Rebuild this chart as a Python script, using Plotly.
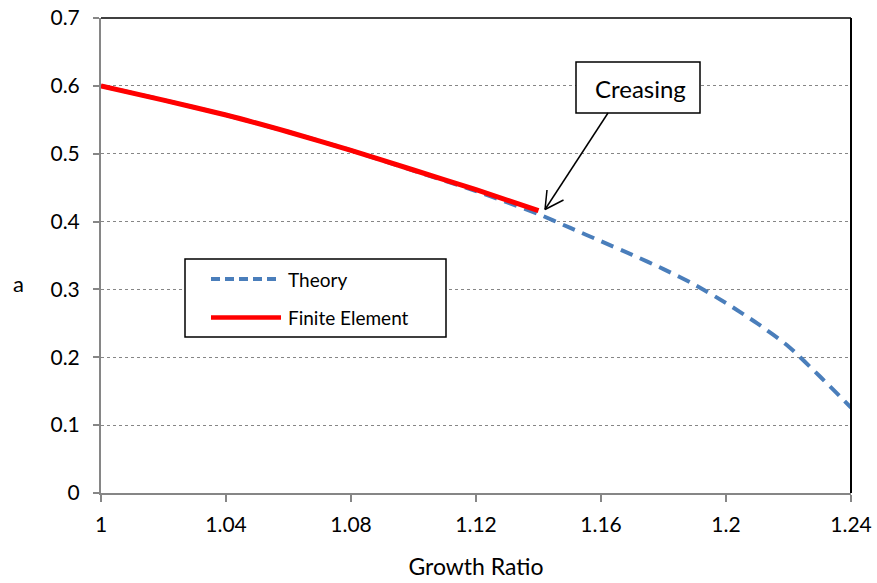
import plotly.graph_objects as go

# ---- data ----
theory_x = [1.00, 1.02, 1.04, 1.06, 1.08, 1.10, 1.12, 1.14, 1.15, 1.16, 1.17, 1.18,
            1.19, 1.20, 1.21, 1.22, 1.23, 1.24]
theory_y = [0.600, 0.579, 0.557, 0.532, 0.505, 0.475, 0.445, 0.411, 0.391, 0.371,
            0.351, 0.330, 0.307, 0.280, 0.250, 0.216, 0.172, 0.126]
fe_x = [1.00, 1.02, 1.04, 1.06, 1.08, 1.10, 1.12, 1.14]
fe_y = [0.600, 0.579, 0.557, 0.532, 0.505, 0.476, 0.447, 0.416]

x_ticks = [1.00, 1.04, 1.08, 1.12, 1.16, 1.20, 1.24]
x_tick_labels = ["1", "1.04", "1.08", "1.12", "1.16", "1.2", "1.24"]
y_ticks = [0, 0.1, 0.2, 0.3, 0.4, 0.5, 0.6, 0.7]
y_tick_labels = ["0", "0.1", "0.2", "0.3", "0.4", "0.5", "0.6", "0.7"]

series_names = ["Theory", "Finite Element"]
annotation_text = "Creasing"

# ---- layout constants ----
W, H = 877, 583
ML, MR, MT, MB = 101, 26, 18, 90
PW, PH = W - ML - MR, H - MT - MB
FONT = "Lato"
BLUE = "#4A7EBB"
RED = "#FF0000"
GRAY = "#868686"


def px(xp):
    return (xp - ML) / PW


def py(yp):
    return (H - MB - yp) / PH


fig = go.Figure()
fig.add_trace(go.Scatter(x=theory_x, y=theory_y, mode="lines", name=series_names[0],
                         line=dict(color=BLUE, width=4, dash="13px,8px", shape="spline",
                                   smoothing=0.6),
                         showlegend=False))
fig.add_trace(go.Scatter(x=fe_x, y=fe_y, mode="lines", name=series_names[1],
                         line=dict(color=RED, width=5, shape="spline", smoothing=0.6),
                         showlegend=False))

shapes = []
# top and right frame (black)
shapes.append(dict(type="line", xref="paper", yref="paper", x0=0, x1=1, y0=1, y1=1,
                   line=dict(color="black", width=1.5)))
shapes.append(dict(type="line", xref="paper", yref="paper", x0=1, x1=1, y0=0, y1=1,
                   line=dict(color="black", width=2)))

# custom legend box
shapes.append(dict(type="rect", xref="paper", yref="paper",
                   x0=px(185), x1=px(446), y0=py(337), y1=py(259),
                   line=dict(color="black", width=1.5), fillcolor="white"))
shapes.append(dict(type="line", xref="paper", yref="paper",
                   x0=px(211), x1=px(281), y0=py(279), y1=py(279),
                   line=dict(color=BLUE, width=4, dash="9px,5px")))
shapes.append(dict(type="line", xref="paper", yref="paper",
                   x0=px(211), x1=px(281), y0=py(317.5), y1=py(317.5),
                   line=dict(color=RED, width=4.5)))

# callout box + open arrow
shapes.append(dict(type="rect", xref="paper", yref="paper",
                   x0=px(576), x1=px(700), y0=py(113), y1=py(62),
                   line=dict(color="black", width=1.5), fillcolor="white"))
shapes.append(dict(type="line", xref="paper", yref="paper",
                   x0=px(608), x1=px(545), y0=py(113), y1=py(209.5),
                   line=dict(color="black", width=1.5)))
shapes.append(dict(type="line", xref="paper", yref="paper",
                   x0=px(545), x1=px(563.5), y0=py(209.5), y1=py(200),
                   line=dict(color="black", width=1.5)))
shapes.append(dict(type="line", xref="paper", yref="paper",
                   x0=px(545), x1=px(547), y0=py(209.5), y1=py(190),
                   line=dict(color="black", width=1.5)))

annotations = [
    dict(text=series_names[0], xref="paper", yref="paper", x=px(286), y=py(279),
         xanchor="left", yanchor="middle", showarrow=False,
         font=dict(family=FONT, size=19, color="black")),
    dict(text=series_names[1], xref="paper", yref="paper", x=px(286), y=py(317.5),
         xanchor="left", yanchor="middle", showarrow=False,
         font=dict(family=FONT, size=19, color="black")),
    dict(text=annotation_text, xref="paper", yref="paper", x=px(640), y=py(88),
         xanchor="center", yanchor="middle", showarrow=False,
         font=dict(family=FONT, size=24, color="black")),
    dict(text="a", xref="paper", yref="paper", x=px(18), y=py(283),
         xanchor="center", yanchor="middle", showarrow=False,
         font=dict(family=FONT, size=22, color="black")),
]

fig.update_layout(
    width=W, height=H,
    margin=dict(l=ML, r=MR, t=MT, b=MB, autoexpand=False),
    paper_bgcolor="white", plot_bgcolor="white",
    font=dict(family=FONT, size=20, color="black"),
    shapes=shapes, annotations=annotations,
    showlegend=False,
    xaxis=dict(range=[1.0, 1.24], tickvals=x_ticks, ticktext=x_tick_labels,
               showgrid=False, zeroline=False, showline=True, linecolor=GRAY, linewidth=2,
               ticks="outside", ticklen=7, tickcolor=GRAY, tickwidth=1.5,
               tickfont=dict(family=FONT, size=21), ticklabelstandoff=5,
               title=dict(text="Growth Ratio", font=dict(family=FONT, size=23), standoff=24),
               automargin=False),
    yaxis=dict(range=[0, 0.7], tickvals=y_ticks, ticktext=y_tick_labels,
               showgrid=True, gridcolor=GRAY, griddash="dot", gridwidth=1.2,
               zeroline=False, showline=True, linecolor=GRAY, linewidth=2,
               ticks="outside", ticklen=6, tickcolor=GRAY, tickwidth=1.5,
               tickfont=dict(family=FONT, size=21), ticklabelstandoff=9,
               automargin=False),
)

fig.write_html("out.html", config={"displayModeBar": False},
               post_script="document.body.style.margin='0';document.body.style.padding='0';")
